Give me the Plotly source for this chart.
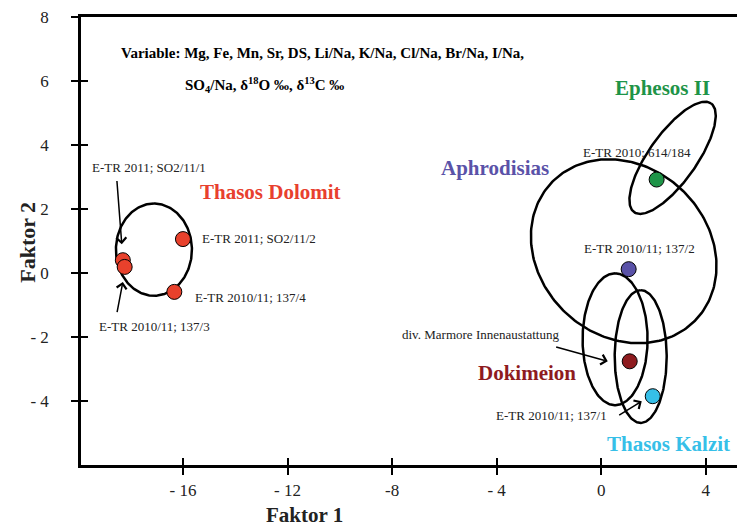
import numpy as np
import plotly.graph_objects as go

# sample scores (Faktor 1 / Faktor 2)
dolomit_x = [-16.0, -18.30, -18.23, -16.33]
dolomit_y = [1.06, 0.40, 0.19, -0.59]
ephesos_x = [2.12]
ephesos_y = [2.92]
aphro_x = [1.05]
aphro_y = [0.12]
dokim_x = [1.09]
dokim_y = [-2.76]
kalzit_x = [1.97]
kalzit_y = [-3.85]

# group ellipses: centre (data), semi axes (px), tilt (deg)
ell_cx = [-17.11, 2.73, 0.86, 0.53, 1.51]
ell_cy = [0.73, 3.60, 0.68, -2.07, -2.61]
ell_a = [46.5, 67, 100, 66.5, 67]
ell_b = [38, 24, 85, 32.5, 26]
ell_ang = [90, 55, -45, 90, 90]

x_tickvals = [-16, -12, -8, -4, 0, 4]
x_ticktext = ["- 16", "- 12", "-8", "- 4", "0", "4"]
y_tickvals = [8, 6, 4, 2, 0, -2, -4]
y_ticktext = ["8", "6", "4", "2", "0", "- 2", "- 4"]

# page body has an 8px margin, so the figure is shifted by 8px
W, H = 737, 524
M = dict(l=73, r=0, t=5, b=67)
X_RANGE = [-19.9, 5.5]
Y_RANGE = [-6.0, 8.0]
px_x = (W - M['l'] - M['r']) / (X_RANGE[1] - X_RANGE[0])
px_y = (H - M['t'] - M['b']) / (Y_RANGE[1] - Y_RANGE[0])

SERIF = "Liberation Serif"


def ellipse(cx, cy, a, b, ang):
    t = np.linspace(0, 2 * np.pi, 240)
    r = np.radians(ang)
    dx = a * np.cos(t) * np.cos(r) - b * np.sin(t) * np.sin(r)
    dy = a * np.cos(t) * np.sin(r) + b * np.sin(t) * np.cos(r)
    return cx + dx / px_x, cy + dy / px_y


fig = go.Figure()

for cx, cy, a, b, ang in zip(ell_cx, ell_cy, ell_a, ell_b, ell_ang):
    ex, ey = ellipse(cx, cy, a, b, ang)
    fig.add_trace(go.Scatter(x=ex, y=ey, mode='lines', line=dict(color='black', width=2.5),
                             hoverinfo='skip', showlegend=False))

groups = [
    (dolomit_x, dolomit_y, '#e8412c'),
    (ephesos_x, ephesos_y, '#1e9448'),
    (aphro_x, aphro_y, '#5a52a8'),
    (dokim_x, dokim_y, '#8e1b1f'),
    (kalzit_x, kalzit_y, '#36bfe8'),
]
for gx, gy, col in groups:
    fig.add_trace(go.Scatter(x=gx, y=gy, mode='markers', showlegend=False,
                             marker=dict(size=15, color=col, line=dict(color='black', width=1))))

# invisible trace for overlay tick axes
fig.add_trace(go.Scatter(x=[None], y=[None], xaxis='x2', yaxis='y2', showlegend=False))

# group names
big = [
    ("Thasos Dolomit", -12.64, 2.52, '#e8402e'),
    ("Ephesos II", 2.35, 5.78, '#1e9448'),
    ("Aphrodisias", -4.08, 3.29, '#5a52a8'),
    ("Dokimeion", -2.85, -3.14, '#8e1b1f'),
    ("Thasos Kalzit", 2.58, -5.34, '#36bfe8'),
]
for txt, x, y, col in big:
    fig.add_annotation(x=x, y=y, text="<b>" + txt + "</b>", showarrow=False,
                       font=dict(family=SERIF, size=21, color=col))

small = [
    ("E-TR 2011; SO2/11/1", -17.30, 3.29),
    ("E-TR 2011; SO2/11/2", -13.10, 1.09),
    ("E-TR 2010/11; 137/4", -13.4, -0.78),
    ("E-TR 2010/11; 137/3", -17.08, -1.68),
    ("E-TR 2010; 614/184", 1.35, 3.76),
    ("E-TR 2010/11; 137/2", 1.47, 0.78),
    ("div. Marmore Innenaustattung", -4.61, -1.93),
    ("E-TR 2010/11; 137/1", -1.90, -4.44),
]
for txt, x, y in small:
    fig.add_annotation(x=x, y=y, text=txt, showarrow=False,
                       font=dict(family=SERIF, size=13, color='#222'))

arrows = [
    (-18.53, 2.92, -18.34, 0.90),
    (-18.53, -1.27, -18.30, -0.28),
    (-1.78, -2.30, 0.25, -2.76),
    (0.63, -4.47, 1.55, -4.01),
]
for ax, ay, x, y in arrows:
    fig.add_annotation(x=x, y=y, ax=ax, ay=ay, axref='x', ayref='y', text='',
                       showarrow=True, arrowhead=4, arrowsize=1.3, arrowwidth=1.5,
                       arrowcolor='black')

fig.add_annotation(x=-18.45, y=6.86, xanchor='left', showarrow=False,
                   text="<b>Variable: Mg, Fe, Mn, Sr, DS, Li/Na, K/Na, Cl/Na, Br/Na, I/Na,</b>",
                   font=dict(family=SERIF, size=15, color='black'))
fig.add_annotation(x=-15.98, y=5.87, xanchor='left', showarrow=False,
                   text="<b>SO<sub>4</sub>/Na, δ<sup>18</sup>O ‰, δ<sup>13</sup>C ‰</b>",
                   font=dict(family=SERIF, size=15, color='black'))

# axis titles
fig.add_annotation(x=0.337, y=-0.112, xref='paper', yref='paper', showarrow=False,
                   xanchor='center', yanchor='middle',
                   text="<b>Faktor 1</b>", font=dict(family=SERIF, size=21, color='#222'))
fig.add_annotation(x=-0.080, y=0.498, xref='paper', yref='paper', showarrow=False, textangle=-90,
                   xanchor='center', yanchor='middle',
                   text="<b>Faktor 2</b>", font=dict(family=SERIF, size=22, color='#222'))

axis_common = dict(showgrid=False, zeroline=False, ticklen=7, tickwidth=2, tickcolor='black')
fig.update_layout(
    width=W, height=H, margin=M,
    plot_bgcolor='white', paper_bgcolor='white',
    xaxis=dict(range=X_RANGE, tickvals=x_tickvals, ticktext=x_ticktext, ticks='outside',
               showline=True, linewidth=2.5, linecolor='black', mirror=True,
               ticklabelstandoff=1, ticklabeloverflow='allow',
               tickfont=dict(family=SERIF, size=17, color='#222'), **axis_common),
    yaxis=dict(range=Y_RANGE, tickvals=y_tickvals, ticktext=y_ticktext, ticks='outside',
               showline=True, linewidth=2.5, linecolor='black',
               ticklabelstandoff=19, ticklabeloverflow='allow',
               tickfont=dict(family=SERIF, size=17, color='#222'), **axis_common),
    xaxis2=dict(range=X_RANGE, overlaying='x', tickvals=x_tickvals, ticks='inside',
                showticklabels=False, **axis_common),
    yaxis2=dict(range=Y_RANGE, overlaying='y', tickvals=y_tickvals, ticks='inside',
                showticklabels=False, **axis_common),
)

fig.write_html("out.html")
